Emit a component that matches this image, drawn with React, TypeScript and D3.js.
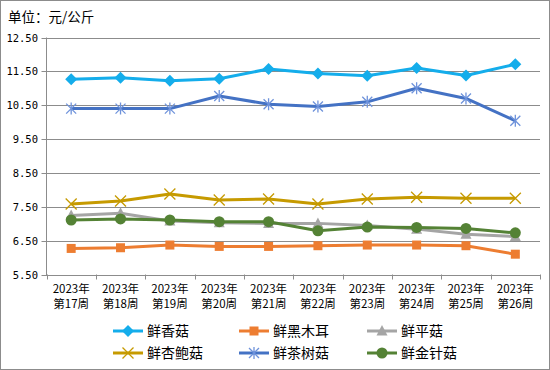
import React from "react";
import * as d3 from "d3";

const categories = ["2023年\n第17周", "2023年\n第18周", "2023年\n第19周", "2023年\n第20周", "2023年\n第21周", "2023年\n第22周", "2023年\n第23周", "2023年\n第24周", "2023年\n第25周", "2023年\n第26周"];
const yTicks = [5.5, 6.5, 7.5, 8.5, 9.5, 10.5, 11.5, 12.5];

const xianggu = [11.27, 11.31, 11.22, 11.28, 11.57, 11.44, 11.37, 11.6, 11.38, 11.71];
const heimuer = [6.27, 6.29, 6.37, 6.33, 6.33, 6.35, 6.37, 6.37, 6.35, 6.1];
const pinggu = [7.24, 7.31, 7.08, 7.03, 7.01, 7.01, 6.95, 6.84, 6.69, 6.62];
const xingbaogu = [7.58, 7.67, 7.88, 7.7, 7.73, 7.58, 7.73, 7.78, 7.75, 7.75];
const chashugu = [10.4, 10.4, 10.4, 10.77, 10.53, 10.46, 10.6, 11.0, 10.7, 10.04];
const jinzhengu = [7.11, 7.14, 7.11, 7.06, 7.06, 6.79, 6.9, 6.89, 6.86, 6.73];

const seriesNames = ["鲜香菇", "鲜黑木耳", "鲜平菇", "鲜杏鲍菇", "鲜茶树菇", "鲜金针菇"];
const seriesValues = [xianggu, heimuer, pinggu, xingbaogu, chashugu, jinzhengu];
const seriesColors = ["#14ADEB", "#ED7D31", "#A5A5A5", "#C69A00", "#4472C4", "#548235"];
const seriesMarkers = ["diamond", "square", "triangle", "x", "asterisk", "circle"];

const W = 550, H = 370;
const left = 46.5, right = 540, top = 37.5, bottom = 274.5;

function Marker({ type, x, y, color }: { type: string; x: number; y: number; color: string }) {
  switch (type) {
    case "diamond":
      return <path d={`M${x},${y - 6}L${x + 6},${y}L${x},${y + 6}L${x - 6},${y}Z`} fill={color} />;
    case "square":
      return <rect x={x - 4.5} y={y - 4.5} width={9} height={9} fill={color} />;
    case "triangle":
      return <path d={`M${x},${y - 6}L${x + 5.5},${y + 4.5}L${x - 5.5},${y + 4.5}Z`} fill={color} />;
    case "x":
      return <path d={`M${x - 5.5},${y - 5.5}L${x + 5.5},${y + 5.5}M${x - 5.5},${y + 5.5}L${x + 5.5},${y - 5.5}`} stroke={color} strokeWidth={1.3} fill="none" />;
    case "asterisk":
      return <path d={`M${x - 5},${y - 5}L${x + 5},${y + 5}M${x - 5},${y + 5}L${x + 5},${y - 5}M${x},${y - 6}L${x},${y + 6}`} stroke="#6F93DB" strokeWidth={1.3} fill="none" />;
    case "circle":
      return <circle cx={x} cy={y} r={5.5} fill={color} />;
    default:
      return null;
  }
}

export default function App() {
  const x = d3.scaleBand<number>().domain(d3.range(categories.length)).range([left, right]);
  const y = d3.scaleLinear().domain([5.5, 12.5]).range([bottom, top]);
  const line = d3.line<number>().x((_, i) => (x(i) as number) + x.bandwidth() / 2).y((d) => y(d));
  const legendCols = [113, 239, 367];
  const legendRows = [331, 353];

  return (
    <svg width={W} height={H} style={{ position: "absolute", left: 0, top: 0, background: "#fff" }}>
      <rect x={0.5} y={0.5} width={W - 1} height={H - 1} fill="#fff" stroke="#8c8c8c" />
      <text x={8} y={22} fontFamily="'Noto Sans CJK SC'" fontSize={13.5} fill="#000">单位：元/公斤</text>
      {yTicks.map((t) => (
        <g key={t}>
          <line x1={left - 5} x2={right} y1={Math.round(y(t)) + 0.5} y2={Math.round(y(t)) + 0.5} stroke="#8c8c8c" />
          <text x={38} y={y(t) + 4} textAnchor="end" fontFamily="'DejaVu Sans Mono'" fontSize={10.5} fill="#000">
            {t.toFixed(2)}
          </text>
        </g>
      ))}
      <line x1={left} x2={left} y1={top} y2={bottom + 0.5} stroke="#8c8c8c" />
      {d3.range(categories.length + 1).map((i) => {
        const xx = Math.round(left + i * x.step()) + 0.5;
        return <line key={i} x1={xx} x2={xx} y1={bottom} y2={bottom + 5} stroke="#8c8c8c" />;
      })}
      {categories.map((c, i) => {
        const cx = (x(i) as number) + x.bandwidth() / 2;
        const [a, b] = c.split("\n");
        return (
          <text key={i} textAnchor="middle" fontFamily="'Noto Sans CJK SC'" fontSize={11.5} fill="#000">
            <tspan x={cx} y={293}>{a}</tspan>
            <tspan x={cx} y={308}>{b}</tspan>
          </text>
        );
      })}
      {seriesValues.map((vals, si) => (
        <g key={si}>
          <path d={line(vals) || ""} fill="none" stroke={seriesColors[si]} strokeWidth={3} strokeLinejoin="round" />
          {vals.map((v, i) => (
            <Marker key={i} type={seriesMarkers[si]} x={(x(i) as number) + x.bandwidth() / 2} y={y(v)} color={seriesColors[si]} />
          ))}
        </g>
      ))}
      {seriesNames.map((n, si) => {
        const lx = legendCols[si % 3];
        const ly = legendRows[Math.floor(si / 3)];
        return (
          <g key={n}>
            <line x1={lx} x2={lx + 30} y1={ly} y2={ly} stroke={seriesColors[si]} strokeWidth={3} />
            <Marker type={seriesMarkers[si]} x={lx + 15} y={ly} color={seriesColors[si]} />
            <text x={lx + 34} y={ly + 5} fontFamily="'Noto Sans CJK SC'" fontSize={14} fill="#000">{n}</text>
          </g>
        );
      })}
    </svg>
  );
}
